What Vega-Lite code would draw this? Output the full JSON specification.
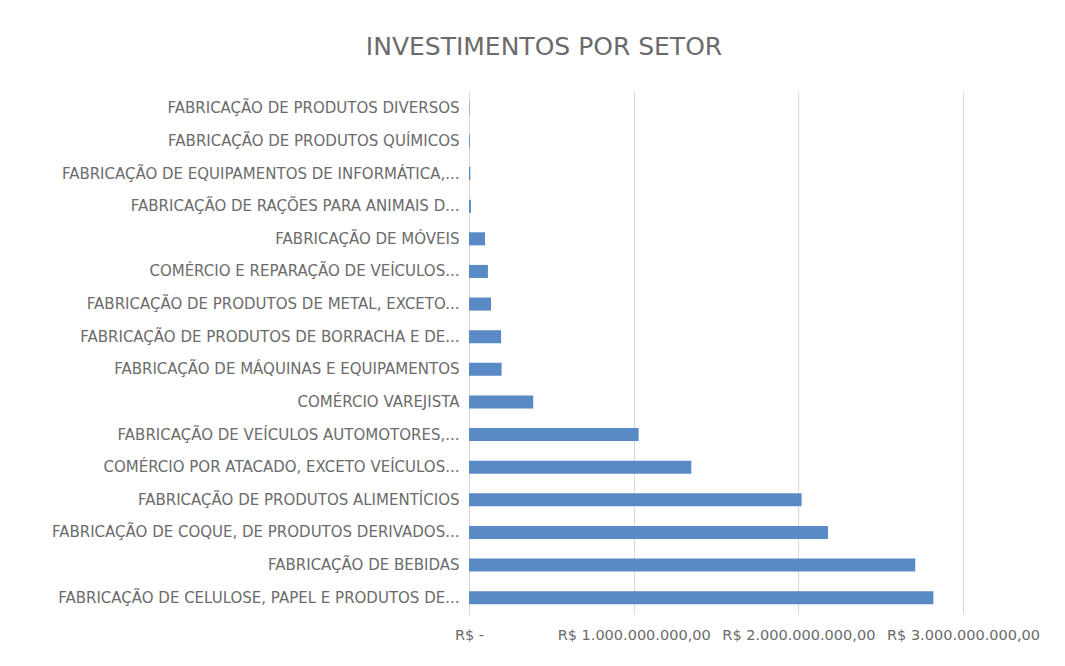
{
  "$schema": "https://vega.github.io/schema/vega-lite/v6.json",
  "autosize": "none",
  "width": 494,
  "height": 522,
  "padding": {"left": 469, "top": 92, "right": 102, "bottom": 52},
  "background": "white",
  "title": {
    "text": "INVESTIMENTOS POR SETOR",
    "anchor": "middle",
    "frame": "group",
    "dx": -172,
    "offset": 32,
    "fontSize": 25,
    "fontWeight": "normal",
    "font": "DejaVu Sans",
    "color": "#6b6b6b"
  },
  "data": {
    "values": [
      {"setor": "FABRICAÇÃO DE PRODUTOS DIVERSOS", "valor": 3000000},
      {"setor": "FABRICAÇÃO DE PRODUTOS QUÍMICOS", "valor": 5000000},
      {"setor": "FABRICAÇÃO DE EQUIPAMENTOS DE INFORMÁTICA,...", "valor": 8000000},
      {"setor": "FABRICAÇÃO DE RAÇÕES PARA ANIMAIS D...", "valor": 12000000},
      {"setor": "FABRICAÇÃO DE MÓVEIS", "valor": 97000000},
      {"setor": "COMÉRCIO E REPARAÇÃO DE VEÍCULOS...", "valor": 115000000},
      {"setor": "FABRICAÇÃO DE PRODUTOS DE METAL, EXCETO...", "valor": 134000000},
      {"setor": "FABRICAÇÃO DE PRODUTOS DE BORRACHA E DE...", "valor": 195000000},
      {"setor": "FABRICAÇÃO DE MÁQUINAS E EQUIPAMENTOS", "valor": 198000000},
      {"setor": "COMÉRCIO VAREJISTA", "valor": 390000000},
      {"setor": "FABRICAÇÃO DE VEÍCULOS AUTOMOTORES,...", "valor": 1030000000},
      {"setor": "COMÉRCIO POR ATACADO, EXCETO VEÍCULOS...", "valor": 1350000000},
      {"setor": "FABRICAÇÃO DE PRODUTOS ALIMENTÍCIOS", "valor": 2020000000},
      {"setor": "FABRICAÇÃO DE COQUE, DE PRODUTOS DERIVADOS...", "valor": 2180000000},
      {"setor": "FABRICAÇÃO DE BEBIDAS", "valor": 2710000000},
      {"setor": "FABRICAÇÃO DE CELULOSE, PAPEL E PRODUTOS DE...", "valor": 2820000000}
    ]
  },
  "mark": {"type": "bar", "color": "#5A8AC6"},
  "encoding": {
    "y": {
      "field": "setor",
      "type": "nominal",
      "sort": null,
      "title": null,
      "scale": {"paddingInner": 0.6, "paddingOuter": 0.3},
      "axis": {
        "ticks": false,
        "domain": true,
        "domainColor": "#d9d9d9",
        "labelPadding": 10,
        "labelLimit": 500,
        "labelFont": "DejaVu Sans",
        "labelFontSize": 15,
        "labelColor": "#6b6b6b"
      }
    },
    "x": {
      "field": "valor",
      "type": "quantitative",
      "title": null,
      "scale": {"domain": [0, 3000000000], "nice": false},
      "axis": {
        "values": [0, 1000000000, 2000000000, 3000000000],
        "labelExpr": "datum.value == 0 ? 'R$ -' : 'R$ ' + format(datum.value / 1000000000, 'd') + '.000.000.000,00'",
        "labelOverlap": false,
        "labelFlush": false,
        "labelBound": false,
        "ticks": false,
        "domain": false,
        "grid": true,
        "gridColor": "#d9d9d9",
        "labelPadding": 14,
        "labelFont": "DejaVu Sans",
        "labelFontSize": 14.5,
        "labelColor": "#6b6b6b"
      }
    }
  },
  "config": {"view": {"stroke": null}}
}
